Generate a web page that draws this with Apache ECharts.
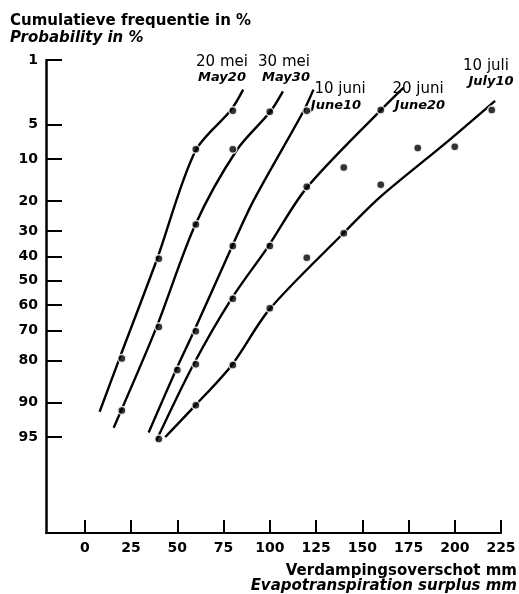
<!DOCTYPE html>
<html>
<head>
<meta charset="utf-8">
<script src="https://cdn.jsdelivr.net/npm/echarts@6/dist/echarts.min.js"></script>
<style>html,body{margin:0;padding:0;background:#fff}#c{width:519px;height:594px}</style>
</head>
<body>
<div id="c"></div>
<script>
// ---- data (x: evapotranspiration surplus mm, y: cumulative probability %) ----
const yTickLabels = [1, 5, 10, 20, 30, 40, 50, 60, 70, 80, 90, 95];
const xTickLabels = [0, 25, 50, 75, 100, 125, 150, 175, 200, 225];

const may20Points  = [[20, 79.3], [40, 40.8], [60, 8.3], [80, 3.66]];
const may30Points  = [[20, 91.4], [40, 68.7], [60, 27.6], [80, 8.3], [100, 3.75]];
const june10Points = [[50, 82.6], [60, 70.2], [80, 35.7], [120, 3.66]];
const june20Points = [[40, 95.2], [60, 81.0], [80, 57.5], [100, 35.7], [120, 16.1], [140, 11.6], [160, 3.6]];
const july10Points = [[60, 90.5], [80, 81.2], [100, 61.4], [120, 40.4], [140, 30.8], [160, 15.6], [180, 8.1], [200, 7.9], [220, 3.6]];

const may20Curve  = [[8, 91.6], [18.6, 79.5], [39, 41], [59.7, 8.6], [79, 3.6], [85.6, 2.2]];
const may30Curve  = [[15.6, 93.9], [38.6, 69], [59.7, 27.7], [82.2, 8.4], [100.2, 3.75], [107.1, 2.3]];
const june10Curve = [[34.5, 94.5], [48.9, 83], [58.8, 70.5], [79.5, 36], [91.2, 19.9], [118.2, 3.7], [123.6, 2.2]];
const june20Curve = [[38.6, 95.4], [58.5, 81.3], [79, 57.8], [99, 36], [119.7, 16.5], [160, 3.6], [172.2, 2.1]];
const july10Curve = [[43.5, 95], [59.2, 90.7], [79.5, 81.2], [99.8, 61.8], [139.5, 31], [159.6, 18.9], [195.7, 7.2], [221.8, 2.9]];

const seriesNames = ['20 mei', '30 mei', '10 juni', '20 juni', '10 juli'];

// normal probability scale: percent -> z
function probit(p) {
  const a=[-3.969683028665376e+01,2.209460984245205e+02,-2.759285104469687e+02,1.383577518672690e+02,-3.066479806614716e+01,2.506628277459239e+00];
  const b=[-5.447609879822406e+01,1.615858368580409e+02,-1.556989798598866e+02,6.680131188771972e+01,-1.328068155288572e+01];
  const c=[-7.784894002430293e-03,-3.223964580411365e-01,-2.400758277161838e+00,-2.549732539343734e+00,4.374664141464968e+00,2.938163982698783e+00];
  const d=[7.784695709041462e-03,3.224671290700398e-01,2.445134137142996e+00,3.754408661907416e+00];
  const pl=0.02425, ph=1-pl;
  let q, r;
  if (p < pl) { q=Math.sqrt(-2*Math.log(p)); return (((((c[0]*q+c[1])*q+c[2])*q+c[3])*q+c[4])*q+c[5])/((((d[0]*q+d[1])*q+d[2])*q+d[3])*q+1); }
  if (p <= ph) { q=p-0.5; r=q*q; return (((((a[0]*r+a[1])*r+a[2])*r+a[3])*r+a[4])*r+a[5])*q/(((((b[0]*r+b[1])*r+b[2])*r+b[3])*r+b[4])*r+1); }
  q=Math.sqrt(-2*Math.log(1-p)); return -(((((c[0]*q+c[1])*q+c[2])*q+c[3])*q+c[4])*q+c[5])/((((d[0]*q+d[1])*q+d[2])*q+d[3])*q+1);
}
const toZ = arr => arr.map(([x, p]) => [x, probit(p / 100)]);
const yTickZ = yTickLabels.map(p => probit(p / 100));

const FONT = 'DejaVu Sans';
const curves = [may20Curve, may30Curve, june10Curve, june20Curve, july10Curve];
const points = [may20Points, may30Points, june10Points, june20Points, july10Points];

const series = [];
curves.forEach((cv, i) => {
  series.push({
    name: seriesNames[i], type: 'line', data: toZ(cv), smooth: 0.3, showSymbol: false,
    lineStyle: { color: '#000', width: 2.4 }, z: 2, silent: true
  });
});
points.forEach((pt, i) => {
  series.push({
    name: seriesNames[i] + ' obs', type: 'scatter', data: toZ(pt), symbolSize: 8,
    itemStyle: { color: '#000', borderColor: '#fff', borderWidth: 1.5 }, z: 3, silent: true
  });
});

const chart = echarts.init(document.getElementById('c'), null, { renderer: 'canvas' });
const txt = (x, y, text, opts) => ({
  type: 'text', x, y, silent: true,
  style: Object.assign({ text, fill: '#000', font: 'bold 14px "' + FONT + '"', textAlign: 'center', textVerticalAlign: 'middle' }, opts || {})
});
chart.setOption({
  animation: false,
  backgroundColor: '#fff',
  grid: { left: 46, right: 18, top: 60, bottom: 61 },
  xAxis: {
    type: 'value', min: -21, max: 225,
    splitLine: { show: false },
    axisLine: { onZero: false, lineStyle: { color: '#000', width: 2 } },
    axisTick: { inside: true, length: 13, customValues: xTickLabels, lineStyle: { color: '#000', width: 2 } },
    axisLabel: { customValues: xTickLabels, margin: 8, color: '#000', fontFamily: FONT, fontWeight: 'bold', fontSize: 14 }
  },
  yAxis: {
    type: 'value', inverse: true, min: probit(0.01), max: 2.656,
    splitLine: { show: false },
    axisLine: { onZero: false, lineStyle: { color: '#000', width: 2.5 } },
    axisTick: { inside: true, length: 16, customValues: yTickZ, lineStyle: { color: '#000', width: 2 } },
    axisLabel: {
      customValues: yTickZ, margin: 8, color: '#000', fontFamily: FONT, fontWeight: 'bold', fontSize: 14,
      formatter: v => { let best = 0; yTickZ.forEach((z, k) => { if (Math.abs(z - v) < Math.abs(yTickZ[best] - v)) best = k; }); return String(yTickLabels[best]); }
    }
  },
  series,
  graphic: [
    txt(10, 21, 'Cumulatieve frequentie in %', { textAlign: 'left', font: 'bold 15px "' + FONT + '"' }),
    txt(10, 38, 'Probability in %', { textAlign: 'left', font: 'italic bold 15px "' + FONT + '"' }),
    txt(517, 571, 'Verdampingsoverschot mm', { textAlign: 'right', font: 'bold 15px "' + FONT + '"' }),
    txt(517, 586, 'Evapotranspiration surplus mm', { textAlign: 'right', font: 'italic bold 15px "' + FONT + '"' }),
    txt(222, 62, '20 mei', { font: '15px "' + FONT + '"' }),
    txt(222, 78, 'May20', { font: 'italic bold 13px "' + FONT + '"' }),
    txt(284, 62, '30 mei', { font: '15px "' + FONT + '"' }),
    txt(286, 78, 'May30', { font: 'italic bold 13px "' + FONT + '"' }),
    txt(340, 89, '10 juni', { font: '15px "' + FONT + '"' }),
    txt(336, 106, 'June10', { font: 'italic bold 13px "' + FONT + '"' }),
    txt(418, 89, '20 juni', { font: '15px "' + FONT + '"' }),
    txt(420, 106, 'June20', { font: 'italic bold 13px "' + FONT + '"' }),
    txt(486, 66, '10 juli', { font: '15px "' + FONT + '"' }),
    txt(491, 82, 'July10', { font: 'italic bold 13px "' + FONT + '"' })
  ]
});
</script>
</body>
</html>
